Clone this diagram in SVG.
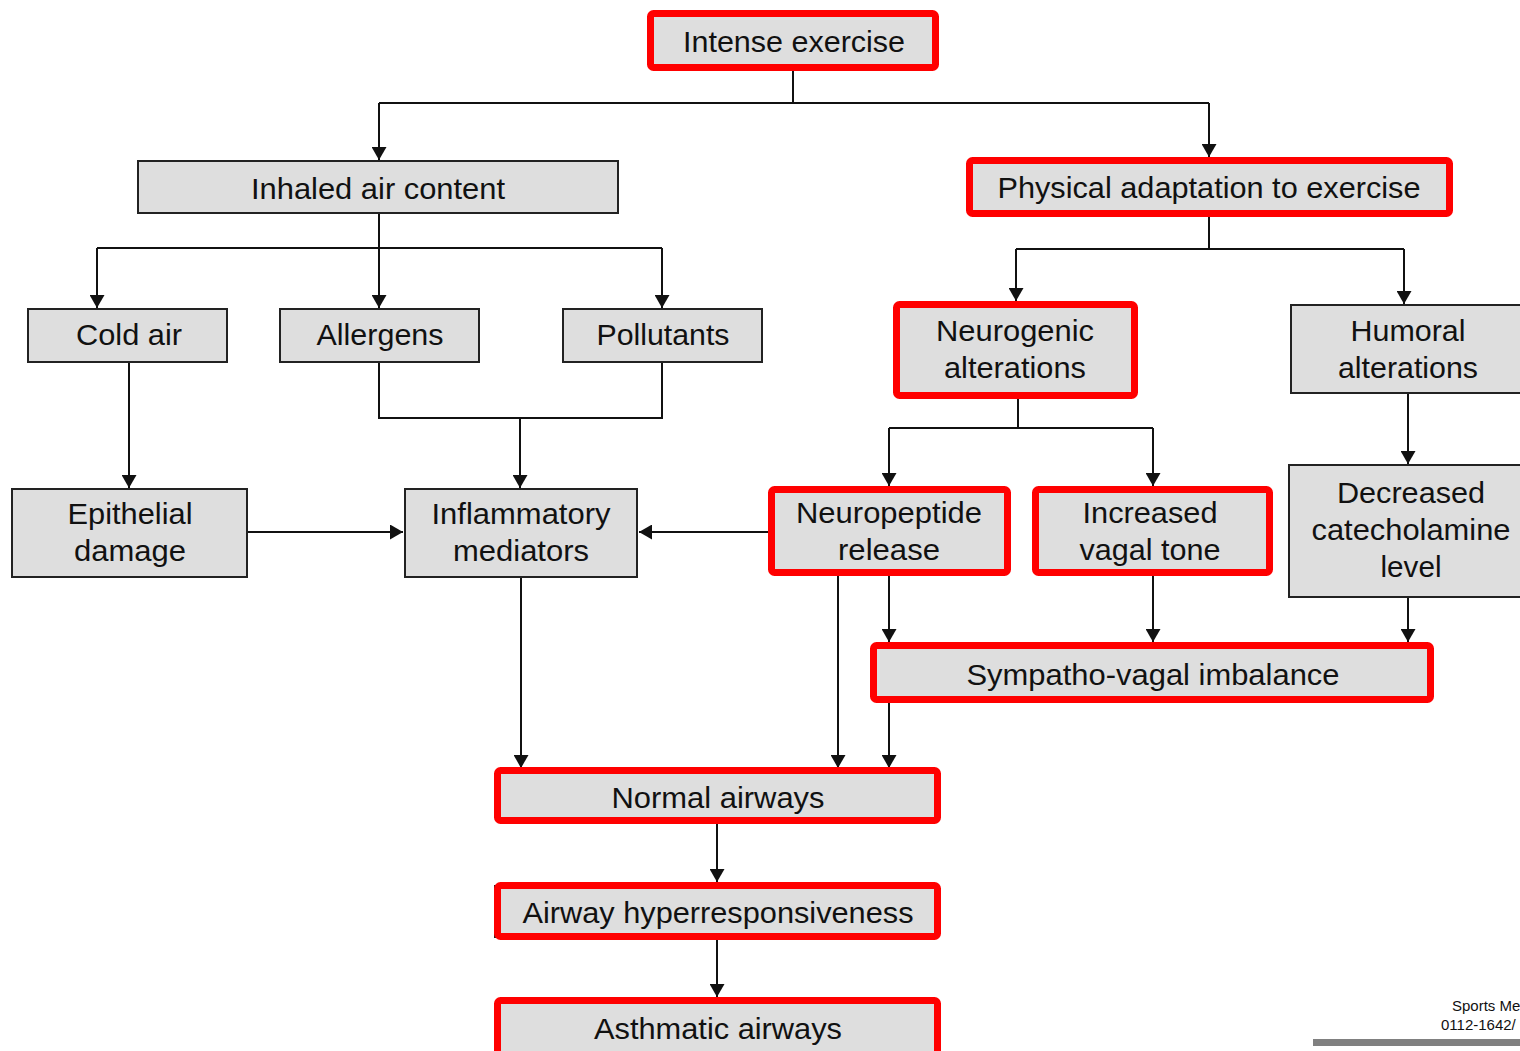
<svg xmlns="http://www.w3.org/2000/svg" width="1520" height="1051" viewBox="0 0 1520 1051">
<defs>
<marker id="ah" markerUnits="userSpaceOnUse" markerWidth="13" markerHeight="15" viewBox="0 0 13 15" refX="13" refY="7.5" orient="auto">
<path d="M0,0 L13,7.5 L0,15 z" fill="#111"/>
</marker>
</defs>
<style>
.box{fill:#dedede;stroke:#222;stroke-width:2}
.red{fill:#dedede;stroke:#ff0000;stroke-width:7}
.t{font-family:"Liberation Sans",Arial,sans-serif;font-size:30px;fill:#111;text-anchor:middle}
.c line,.c polyline{stroke:#111;stroke-width:2;fill:none}
.a{marker-end:url(#ah)}
.ft{font-family:"Liberation Sans",Arial,sans-serif;font-size:15px;fill:#111}
</style>
<rect width="1520" height="1051" fill="#fff"/>
<g class="c" id="connectors">
<polyline points="793,71 793,103"/>
<polyline points="379,103 1209,103"/>
<polyline class="a" points="379,103 379,160"/>
<polyline class="a" points="1209,103 1209,157"/>
<polyline points="379,213 379,248"/>
<polyline points="97,248 662,248"/>
<polyline class="a" points="97,248 97,308"/>
<polyline class="a" points="379,248 379,308"/>
<polyline class="a" points="662,248 662,308"/>
<polyline class="a" points="129,362 129,488"/>
<polyline points="379,362 379,418 662,418 662,362"/>
<polyline class="a" points="520,418 520,488"/>
<polyline class="a" points="247,532 403,532"/>
<polyline class="a" points="768,532 639,532"/>
<polyline class="a" points="521,577 521,768"/>
<polyline points="1209,217 1209,249"/>
<polyline points="1016,249 1404,249"/>
<polyline class="a" points="1016,249 1016,301"/>
<polyline class="a" points="1404,249 1404,304"/>
<polyline points="1018,399 1018,428"/>
<polyline points="889,428 1153,428"/>
<polyline class="a" points="889,428 889,486"/>
<polyline class="a" points="1153,428 1153,486"/>
<polyline class="a" points="1408,393 1408,464"/>
<polyline class="a" points="838,576 838,768"/>
<polyline class="a" points="889,576 889,642"/>
<polyline class="a" points="1153,576 1153,642"/>
<polyline class="a" points="1408,597 1408,642"/>
<polyline class="a" points="889,703 889,768"/>
<polyline class="a" points="717,824 717,882"/>
<polyline class="a" points="717,940 717,997"/>
</g>
<g id="intense-exercise">
<rect class="red" x="650.5" y="13.5" width="285" height="54" rx="3"/>
<text class="t" x="794" y="52" textLength="222" lengthAdjust="spacingAndGlyphs">Intense exercise</text>
</g>
<g id="inhaled-air-content">
<rect class="box" x="138" y="161" width="480" height="52"/>
<text class="t" x="378" y="199" textLength="254" lengthAdjust="spacingAndGlyphs">Inhaled air content</text>
</g>
<g id="physical-adaptation">
<rect class="red" x="969.5" y="160.5" width="480" height="53" rx="3"/>
<text class="t" x="1209" y="198" textLength="423" lengthAdjust="spacingAndGlyphs">Physical adaptation to exercise</text>
</g>
<g id="cold-air">
<rect class="box" x="28" y="309" width="199" height="53"/>
<text class="t" x="129" y="345" textLength="106" lengthAdjust="spacingAndGlyphs">Cold air</text>
</g>
<g id="allergens">
<rect class="box" x="280" y="309" width="199" height="53"/>
<text class="t" x="380" y="345" textLength="127" lengthAdjust="spacingAndGlyphs">Allergens</text>
</g>
<g id="pollutants">
<rect class="box" x="563" y="309" width="199" height="53"/>
<text class="t" x="663" y="345" textLength="133" lengthAdjust="spacingAndGlyphs">Pollutants</text>
</g>
<g id="neurogenic-alterations">
<rect class="red" x="896.5" y="304.5" width="238" height="91" rx="3"/>
<text class="t" x="1015" y="341" textLength="158" lengthAdjust="spacingAndGlyphs">Neurogenic</text>
<text class="t" x="1015" y="378" textLength="142" lengthAdjust="spacingAndGlyphs">alterations</text>
</g>
<g id="humoral-alterations">
<rect class="box" x="1291" y="305" width="240" height="88"/>
<text class="t" x="1408" y="341" textLength="115" lengthAdjust="spacingAndGlyphs">Humoral</text>
<text class="t" x="1408" y="378" textLength="140" lengthAdjust="spacingAndGlyphs">alterations</text>
</g>
<g id="epithelial-damage">
<rect class="box" x="12" y="489" width="235" height="88"/>
<text class="t" x="130" y="524" textLength="125" lengthAdjust="spacingAndGlyphs">Epithelial</text>
<text class="t" x="130" y="561" textLength="112" lengthAdjust="spacingAndGlyphs">damage</text>
</g>
<g id="inflammatory-mediators">
<rect class="box" x="405" y="489" width="232" height="88"/>
<text class="t" x="521" y="524" textLength="179" lengthAdjust="spacingAndGlyphs">Inflammatory</text>
<text class="t" x="521" y="561" textLength="136" lengthAdjust="spacingAndGlyphs">mediators</text>
</g>
<g id="neuropeptide-release">
<rect class="red" x="771.5" y="489.5" width="236" height="83" rx="3"/>
<text class="t" x="889" y="523" textLength="186" lengthAdjust="spacingAndGlyphs">Neuropeptide</text>
<text class="t" x="889" y="560" textLength="102" lengthAdjust="spacingAndGlyphs">release</text>
</g>
<g id="increased-vagal-tone">
<rect class="red" x="1035.5" y="489.5" width="234" height="83" rx="3"/>
<text class="t" x="1150" y="523" textLength="135" lengthAdjust="spacingAndGlyphs">Increased</text>
<text class="t" x="1150" y="560" textLength="141" lengthAdjust="spacingAndGlyphs">vagal tone</text>
</g>
<g id="decreased-catecholamine">
<rect class="box" x="1289" y="465" width="242" height="132"/>
<text class="t" x="1411" y="503" textLength="148" lengthAdjust="spacingAndGlyphs">Decreased</text>
<text class="t" x="1411" y="540" textLength="199" lengthAdjust="spacingAndGlyphs">catecholamine</text>
<text class="t" x="1411" y="577" textLength="61" lengthAdjust="spacingAndGlyphs">level</text>
</g>
<g id="sympatho-vagal-imbalance">
<rect class="red" x="873.5" y="645.5" width="557" height="54" rx="3"/>
<text class="t" x="1153" y="685" textLength="373" lengthAdjust="spacingAndGlyphs">Sympatho-vagal imbalance</text>
</g>
<g id="normal-airways">
<rect class="red" x="497.5" y="770.5" width="440" height="50" rx="3"/>
<text class="t" x="718" y="808" textLength="213" lengthAdjust="spacingAndGlyphs">Normal airways</text>
</g>
<g id="airway-hyperresponsiveness">
<rect class="box" x="495" y="886" width="438" height="51"/>
<rect class="red" x="497.5" y="885.5" width="440" height="51" rx="3"/>
<text class="t" x="718" y="923" textLength="391" lengthAdjust="spacingAndGlyphs">Airway hyperresponsiveness</text>
</g>
<g id="asthmatic-airways">
<rect class="red" x="497.5" y="1000.5" width="440" height="60" rx="3"/>
<text class="t" x="718" y="1039" textLength="248" lengthAdjust="spacingAndGlyphs">Asthmatic airways</text>
</g>
<g id="footer">
<text class="ft" x="1452" y="1011">Sports Me</text>
<text class="ft" x="1441" y="1030">0112-1642/</text>
<rect x="1313" y="1039" width="207" height="7" fill="#808080"/>
</g>
</svg>
